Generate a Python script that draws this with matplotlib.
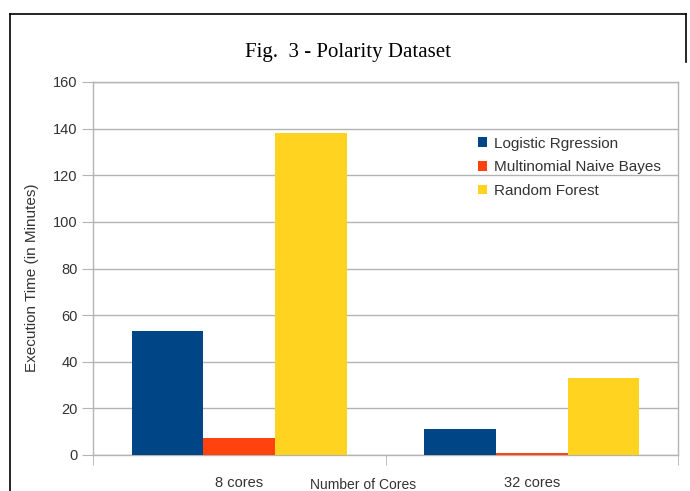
import matplotlib
matplotlib.use("Agg")
import matplotlib.pyplot as plt
from matplotlib.lines import Line2D
import numpy as np

# Данные графика
categories = ["8 cores", "32 cores"]
series_names = ["Logistic Rgression", "Multinomial Naive Bayes", "Random Forest"]
logistic = [53, 11]
naive_bayes = [7.5, 1]
random_forest = [138, 33]
colors = ["#004586", "#ff420e", "#ffd320"]

plt.rcParams["font.family"] = ["Liberation Sans", "DejaVu Sans"]

fig = plt.figure(figsize=(6.9, 4.91), dpi=100)
ax = fig.add_axes([93 / 690, 1 - 455 / 491, (678 - 93) / 690, (455 - 82) / 491])

x = np.arange(len(categories))
width = 0.245
for i, (vals, c) in enumerate(zip([logistic, naive_bayes, random_forest], colors)):
    ax.bar(x + (i - 1) * width, vals, width, color=c, label=series_names[i], zorder=3)

ax.set_xlim(-0.5, 1.5)
ax.set_ylim(0, 160)
ax.set_yticks(np.arange(0, 161, 20))
ax.set_xticks(x)
ax.set_xticklabels(categories, fontsize=10.5, color="#333333")
ax.set_xticks([-0.5, 0.5, 1.5], minor=True)
ax.tick_params(axis="x", which="major", length=0, pad=15)
ax.tick_params(axis="x", which="minor", length=7, color="#b3b3b3", direction="out")
ax.tick_params(axis="y", length=8, color="#b3b3b3", pad=3, labelsize=10.5, labelcolor="#333333")
ax.grid(axis="y", color="#b3b3b3", linewidth=1, zorder=0)
for s in ax.spines.values():
    s.set_color("#b3b3b3")
    s.set_linewidth(1)

# Подписи осей
fig.text(32 / 690, 1 - 278 / 491, "Execution Time (in Minutes)", rotation=90,
         ha="center", va="center", fontsize=11, color="#333333")
fig.text(363 / 690, 1 - 485 / 491, "Number of Cores", ha="center", va="center",
         fontsize=10, color="#333333")

fig.text(348 / 690, 1 - 53 / 491, "Fig.  3 - Polarity Dataset", ha="center", va="center",
         fontsize=15, family="Liberation Serif", color="black")

ax.legend(loc="upper left", bbox_to_anchor=(470 / 690, 1 - 129 / 491),
          bbox_transform=fig.transFigure, frameon=False, fontsize=11,
          handlelength=0.6, handleheight=0.6, handletextpad=0.45,
          labelspacing=0.63, borderpad=0, labelcolor="#333333")

# Рамка вокруг рисунка
fig.add_artist(Line2D([10 / 690, 10 / 690], [0, 1 - 14 / 491], color="black", lw=1.2))
fig.add_artist(Line2D([10 / 690, 686 / 690], [1 - 14 / 491, 1 - 14 / 491], color="black", lw=1.2))
fig.add_artist(Line2D([686 / 690, 686 / 690], [1 - 14 / 491, 1 - 62 / 491], color="black", lw=1.2))

fig.savefig("out.png", dpi=100)
